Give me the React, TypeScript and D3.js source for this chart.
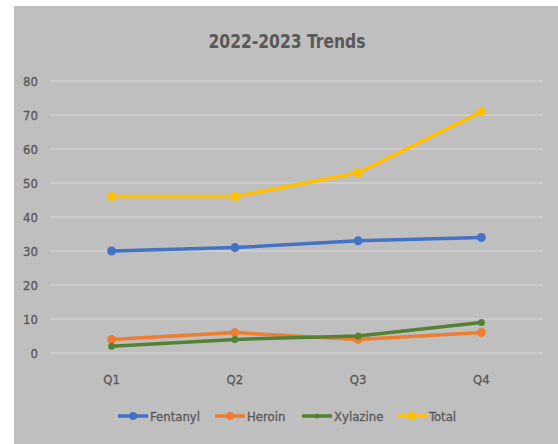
import React from "react";
import * as d3 from "d3";

const categories = ["Q1", "Q2", "Q3", "Q4"];
const fentanyl = [30, 31, 33, 34];
const heroin = [4, 6, 4, 6];
const xylazine = [2, 4, 5, 9];
const total = [46, 46, 53, 71];
const yTicks = [0, 10, 20, 30, 40, 50, 60, 70, 80];
const seriesNames = ["Fentanyl", "Heroin", "Xylazine", "Total"];
const seriesColors = ["#4472C4", "#ED7D31", "#548235", "#FFC000"];

const W = 558;
const H = 444;
const FONT = "'Liberation Sans Narrow', 'DejaVu Sans Condensed', 'Open Sans', sans-serif";

export default function App() {
  const x = d3.scaleBand<string>().domain(categories).range([50, 543]);
  const y = d3.scaleLinear().domain([0, 80]).range([353, 81]);
  const series = [fentanyl, heroin, xylazine, total];
  const line = d3
    .line<number>()
    .x((_, i) => (x(categories[i]) as number) + x.bandwidth() / 2)
    .y((d) => y(d));
  const legendX = [118, 215, 302, 397];
  const text = "#595959";
  return (
    <svg width={W} height={H} style={{ position: "absolute", left: 0, top: 0 }}>
      <rect x={0} y={0} width={W} height={H} fill="#ffffff" />
      <rect x={14} y={6} width={W - 14} height={H - 6} fill="#bfbfbf" />
      <text x={287} y={48} textAnchor="middle" fontFamily={FONT} fontSize={19} fontWeight="bold" fill={text} textLength={157} lengthAdjust="spacingAndGlyphs">
        2022-2023 Trends
      </text>
      {yTicks.map((t) => (
        <g key={t}>
          <line x1={50} x2={543} y1={y(t)} y2={y(t)} stroke="#d9d9d9" strokeWidth={1} />
          <text x={38} y={y(t) + 4.5} textAnchor="end" fontFamily={FONT} fontSize={13} fill={text} stroke={text} strokeWidth={0.3}>
            {t}
          </text>
        </g>
      ))}
      {categories.map((c) => (
        <text key={c} x={(x(c) as number) + x.bandwidth() / 2} y={384} textAnchor="middle" fontFamily={FONT} fontSize={13} fill={text} stroke={text} strokeWidth={0.3}>
          {c}
        </text>
      ))}
      {series.map((s, si) => (
        <g key={si}>
          <path d={line(s) as string} fill="none" stroke={seriesColors[si]} strokeWidth={3.5} strokeLinecap="round" />
          {s.map((v, i) => (
            <circle key={i} cx={(x(categories[i]) as number) + x.bandwidth() / 2} cy={y(v)} r={si === 2 ? 3.5 : 4.5} fill={seriesColors[si]} />
          ))}
        </g>
      ))}
      {seriesNames.map((n, i) => (
        <g key={n}>
          <line x1={legendX[i]} x2={legendX[i] + 30} y1={416} y2={416} stroke={seriesColors[i]} strokeWidth={3.5} />
          <circle cx={legendX[i] + 15} cy={416} r={i === 2 ? 2.5 : 4} fill={seriesColors[i]} />
          <text x={legendX[i] + 32} y={420.5} fontFamily={FONT} fontSize={13} fill={text} stroke={text} strokeWidth={0.3}>
            {n}
          </text>
        </g>
      ))}
    </svg>
  );
}
